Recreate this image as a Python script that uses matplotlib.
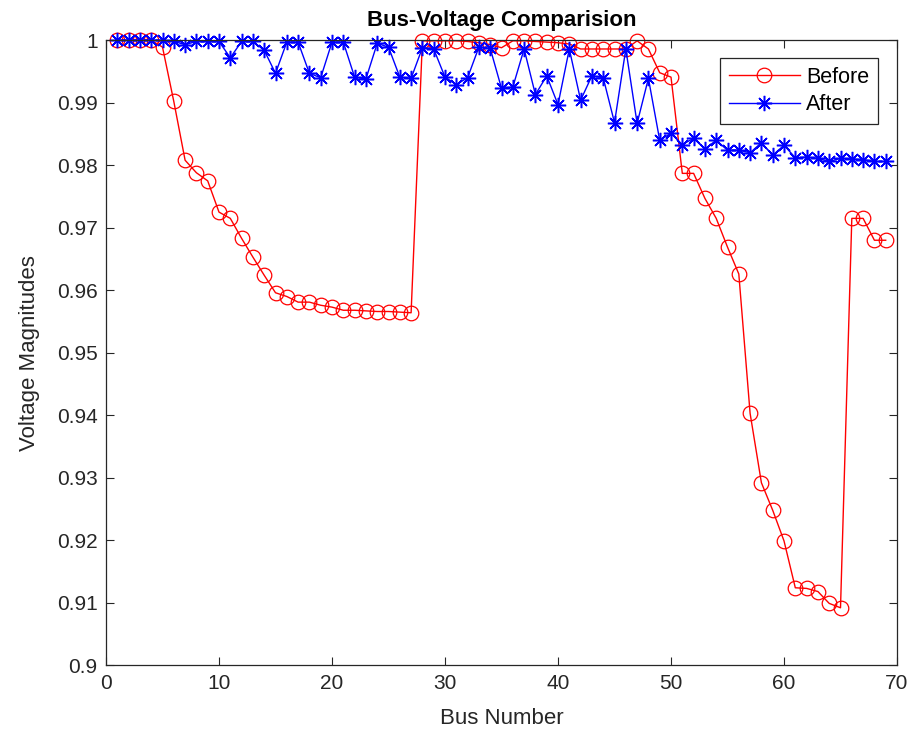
import numpy as np
import matplotlib
matplotlib.use('Agg')
import matplotlib.pyplot as plt
from matplotlib.ticker import FuncFormatter

plt.rcParams['font.family'] = ['Liberation Sans', 'DejaVu Sans']

bus = np.arange(1, 70)

# voltage magnitudes
before = [1.0, 1.0, 1.0, 1.0, 0.9989, 0.9902, 0.9808, 0.9788, 0.9775, 0.9725,
          0.9715, 0.9683, 0.9653, 0.9624, 0.9596, 0.9590, 0.9581, 0.9581, 0.9576, 0.9573,
          0.9568, 0.9568, 0.9567, 0.9566, 0.9566, 0.9565, 0.9564, 0.9999, 0.9999, 0.9999,
          0.9999, 0.9998, 0.9996, 0.9993, 0.9988, 0.9999, 0.9999, 0.9998, 0.9997, 0.9996,
          0.9994, 0.9986, 0.9986, 0.9986, 0.9986, 0.9986, 0.9999, 0.9986, 0.9948, 0.9941,
          0.9787, 0.9787, 0.9747, 0.9715, 0.9669, 0.9626, 0.9403, 0.9292, 0.9248, 0.9199,
          0.9124, 0.9123, 0.9118, 0.9099, 0.9092, 0.9715, 0.9715, 0.9680, 0.9680]

after = [1.0, 1.0, 1.0, 1.0, 1.0, 0.9998, 0.9993, 0.9998, 0.9998, 0.9998,
         0.9972, 0.9998, 0.9998, 0.9984, 0.9947, 0.9997, 0.9997, 0.9947, 0.9940, 0.9997,
         0.9997, 0.9941, 0.9938, 0.9995, 0.9989, 0.9941, 0.9939, 0.9988, 0.9986, 0.9941,
         0.9929, 0.9940, 0.9989, 0.9987, 0.9923, 0.9925, 0.9986, 0.9913, 0.9943, 0.9897,
         0.9986, 0.9904, 0.9943, 0.9940, 0.9868, 0.9986, 0.9867, 0.9939, 0.9840, 0.9851,
         0.9833, 0.9843, 0.9826, 0.9840, 0.9824, 0.9824, 0.9820, 0.9836, 0.9816, 0.9832,
         0.9812, 0.9813, 0.9811, 0.9806, 0.9811, 0.9810, 0.9809, 0.9806, 0.9806]

fig = plt.figure(figsize=(9.17, 7.45), dpi=100)
ax = fig.add_axes([0.1156, 0.107, 0.8626, 0.839])

ax.plot(bus, before, color='r', lw=1, marker='o', ms=10.5, clip_on=False,
        markerfacecolor='none', markeredgewidth=0.9, label='Before')
ax.plot(bus, after, color='b', lw=1, marker=(8, 2, 0), ms=11, clip_on=False,
        markeredgewidth=1.1, label='After')

ax.set_xlim(0, 70)
ax.set_ylim(0.9, 1.0)
ax.set_xticks(np.arange(0, 71, 10))
ax.set_yticks(np.linspace(0.9, 1.0, 11))
ax.yaxis.set_major_formatter(FuncFormatter(lambda v, p: ('%.2f' % v).rstrip('0').rstrip('.')))
ax.tick_params(direction='in', top=True, right=True, length=6, width=0.8,
               labelsize=15, colors='#262626', pad=6)
for s in ax.spines.values():
    s.set_linewidth(0.9)
    s.set_color('#262626')

ax.set_title('Bus-Voltage Comparision', fontsize=16, fontweight='bold', pad=10)
ax.set_xlabel('Bus Number', fontsize=16, color='#262626', labelpad=11)
ax.set_ylabel('Voltage Magnitudes', fontsize=16, color='#262626', labelpad=12)

leg = ax.legend(loc='upper right', bbox_to_anchor=(0.976, 0.971), borderaxespad=0,
                fontsize=15.5, fancybox=False, framealpha=1, edgecolor='#262626',
                handlelength=3.3, borderpad=0.4, labelspacing=0.3, handletextpad=0.3)
leg.get_frame().set_linewidth(0.9)

fig.savefig('out.png', dpi=100)
